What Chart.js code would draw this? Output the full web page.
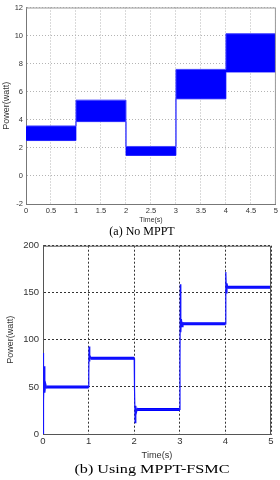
<!DOCTYPE html>
<html>
<head>
<meta charset="utf-8">
<script src="https://cdn.jsdelivr.net/npm/chart.js@4"></script>
<style>
    body { margin: 0; background: #fff; }
    #wrap { position: relative; width: 280px; height: 480px; overflow: hidden; }
    canvas { position: absolute; left: 0; }
    .cap { position: absolute; left: 0; width: 280px; font-family: 'Liberation Serif', 'Times New Roman', serif;
        font-size: 12px; line-height: 14px; color: #000; white-space: nowrap; }
</style>
</head>
<body>
<div id='wrap'>
    <canvas id='plot-a' width='280' height='228' style='top: 0px;'></canvas>
    <div class='cap' id='cap-a' style='top: 224px; text-align: center; text-indent: 4px;'>(a) No MPPT</div>
    <canvas id='plot-b' width='280' height='228' style='top: 236px;'></canvas>
    <div class='cap' id='cap-b' style='top: 462px;'><span id='cap-b-txt' style='position: absolute; left: 152px; transform: translateX(-50%) scaleX(1.35);'>(b) Using MPPT-FSMC</span></div>
</div>
<script>
// (a) No MPPT - power oscillates inside a band on every 1 s interval
const stepTime = [0, 1, 2, 3, 4, 5];
const bandMax = [3.56, 5.4, 2.1, 7.59, 10.13];
const bandMin = [2.52, 3.87, 1.46, 5.49, 7.4];
const ticksA_x = [0, 5, 0.5];
const ticksA_y = [-2, 12, 2];

// (b) MPPT-FSMC - transients after each step, then flat level
const mpptTime = [0, 0.004, 0.01, 0.02, 0.03, 0.04, 0.06, 0.08, 0.1,
    1.0, 1.004, 1.01, 1.02, 1.03, 1.05, 2.0,
    2.004, 2.01, 2.02, 2.035, 2.05, 2.07, 2.09, 3.0,
    3.004, 3.012, 3.022, 3.035, 3.05, 3.07, 3.09, 4.0,
    4.006, 4.012, 4.022, 4.035, 4.05, 5.0];
const mpptPower = [0, 38, 86, 35, 72, 44, 53, 49, 50,
    50, 62, 93, 77, 84, 80.5, 80.5,
    55, 48, 12, 30, 23, 27, 26, 26,
    78, 159, 108, 122, 114, 118, 117, 117,
    150, 172, 150, 160, 156, 156];
const levelStart = [0.08, 1.04, 2.06, 3.06, 4.04];
const levelEnd = [1, 2, 3, 4, 5];
const levelPower = [50, 80.5, 26, 117, 156];
const ticksB_x = [0, 5, 1];
const ticksB_y = [0, 200, 50];

Chart.defaults.font.family = "'Liberation Sans', Arial, sans-serif";
Chart.defaults.color = '#333';
Chart.defaults.animation = false;

// draws top and right side of the axes box
const boxPlugin = {
    id: 'box',
    afterDraw(chart, args, opts) {
        let a = chart.chartArea;
        let ctx = chart.ctx;
        ctx.save();
        ctx.setLineDash([]);
        ctx.strokeStyle = opts.color;
        ctx.lineWidth = 1;
        ctx.beginPath();
        ctx.moveTo(a.left, a.top + 0.5);
        ctx.lineTo(a.right - 0.5, a.top + 0.5);
        ctx.lineTo(a.right - 0.5, a.bottom);
        ctx.stroke();
        ctx.restore();
    }
};

function step_points(vals) {
    let pts = stepTime.map((t, i) => ({ x: t, y: vals[Math.min(i, vals.length - 1)] }));
    return pts;
}

function tick_fmt(v) {
    return String(Number(v.toFixed(2)));
}

function plot_a() {
    let ctx = document.getElementById('plot-a');
    new Chart(ctx, {
        type: 'line',
        data: {
            datasets: [
                {
                    label: 'max',
                    data: step_points(bandMax),
                    stepped: 'before',
                    borderColor: '#4646ff',
                    borderWidth: 1,
                    backgroundColor: '#0000ff',
                    fill: '+1',
                    pointRadius: 0
                },
                {
                    label: 'min',
                    data: step_points(bandMin),
                    stepped: 'before',
                    borderColor: '#4646ff',
                    borderWidth: 1,
                    fill: false,
                    pointRadius: 0
                }
            ]
        },
        options: {
            responsive: false,
            layout: { padding: { top: 6, right: 1, left: 0, bottom: 0 } },
            scales: {
                x: {
                    type: 'linear',
                    min: ticksA_x[0], max: ticksA_x[1],
                    ticks: { stepSize: ticksA_x[2], padding: 2, font: { size: 7.5 }, maxRotation: 0, callback: tick_fmt },
                    grid: { color: '#b4b4b4', drawTicks: false },
                    border: { display: true, color: '#777', dash: [1, 2] },
                    title: { display: true, text: 'Time(s)', font: { size: 7 }, padding: { top: 0, bottom: 4 } },
                    afterFit: (s) => { s.height = 24; }
                },
                y: {
                    min: ticksA_y[0], max: ticksA_y[1],
                    ticks: { stepSize: ticksA_y[2], padding: 3, font: { size: 7.5 }, callback: tick_fmt },
                    grid: { color: '#b4b4b4', drawTicks: false },
                    border: { display: true, color: '#777', dash: [1, 2] },
                    title: { display: true, text: 'Power(watt)', font: { size: 9 }, padding: { top: 1, bottom: 0 } },
                    afterFit: (s) => { s.width = 26; }
                }
            },
            plugins: {
                legend: { display: false },
                tooltip: { enabled: false },
                box: { color: '#999' }
            }
        },
        plugins: [boxPlugin]
    });
}

function plot_b() {
    let ctx = document.getElementById('plot-b');
    let trace = mpptTime.map((t, i) => ({ x: t, y: mpptPower[i] }));
    let levels = [];
    for (let i = 0; i < levelPower.length; i++) {
        levels.push({ x: levelStart[i], y: levelPower[i] });
        levels.push({ x: levelEnd[i], y: levelPower[i] });
        levels.push({ x: levelEnd[i], y: null });
    }
    new Chart(ctx, {
        type: 'line',
        data: {
            datasets: [
                {
                    label: 'P',
                    data: trace,
                    borderColor: '#1414ff',
                    borderWidth: 1.2,
                    pointRadius: 0,
                    fill: false
                },
                {
                    label: 'P steady',
                    data: levels,
                    borderColor: '#0000ff',
                    borderWidth: 3,
                    pointRadius: 0,
                    spanGaps: false,
                    fill: false
                }
            ]
        },
        options: {
            responsive: false,
            layout: { padding: { top: 8, right: 9, left: 0, bottom: 0 } },
            scales: {
                x: {
                    type: 'linear',
                    min: ticksB_x[0], max: ticksB_x[1],
                    ticks: { stepSize: ticksB_x[2], padding: 2, font: { size: 9.5 }, maxRotation: 0 },
                    grid: { color: '#333', drawTicks: false },
                    border: { display: true, color: '#555', dash: [2, 2] },
                    title: { display: true, text: 'Time(s)', font: { size: 9.2 }, padding: { top: 0, bottom: 3.5 } },
                    afterFit: (s) => { s.height = 30; }
                },
                y: {
                    min: ticksB_y[0], max: ticksB_y[1],
                    ticks: { stepSize: ticksB_y[2], padding: 4, font: { size: 9.5 } },
                    grid: { color: '#333', drawTicks: false },
                    border: { display: true, color: '#555', dash: [2, 2] },
                    title: { display: true, text: 'Power(watt)', font: { size: 9 }, padding: { top: 5, bottom: 0 } },
                    afterFit: (s) => { s.width = 43; }
                }
            },
            plugins: {
                legend: { display: false },
                tooltip: { enabled: false },
                box: { color: '#555' }
            }
        },
        plugins: [boxPlugin]
    });
}

plot_a();
plot_b();
</script>
</body>
</html>
